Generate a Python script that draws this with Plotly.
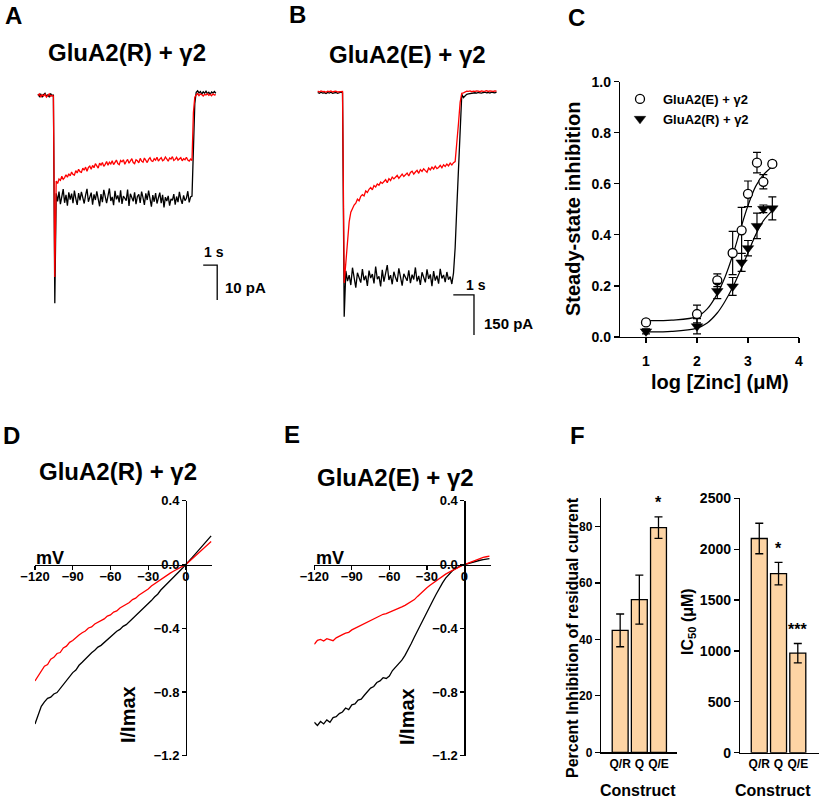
import numpy as np
import plotly.graph_objects as go

W, H = 820, 798
FONT = "Liberation Sans, Arial, Helvetica, sans-serif"
RED = "#ff0000"
BLACK = "#000000"
BAR = "#fdd4a4"

# ---------------- Panel A: GluA2(R)+g2 currents (pA), sampled every A_DT s ----------------
A_DT = 0.1
A_BLACK_PRE = [0.3, -0.4, 0.2, -0.6, 0.1, 0.5, -0.3, 0.0, -0.5, 0.4, -0.2, 0.1]
A_BLACK_PEAK = -59.5
A_BLACK_SS = [-28.1, -30.4, -27.6, -31.2, -29.0, -26.9, -30.8, -28.5, -31.6, -27.8,
              -29.9, -28.2, -30.9, -27.3, -29.6, -31.4, -28.0, -30.1, -27.7, -29.3,
              -31.0, -28.6, -26.8, -30.5, -29.2, -27.9, -31.3, -28.4, -30.0, -27.5,
              -29.7, -31.8, -28.3, -30.6, -27.1, -29.4, -30.9, -28.8, -26.7, -30.3,
              -29.1, -31.5, -27.4, -29.8, -28.7, -30.7, -27.2, -31.1, -28.9, -29.5,
              -30.2, -27.0, -31.7, -28.2, -29.6, -30.4, -27.8, -31.2, -29.0, -28.4,
              -30.8, -27.6, -29.3, -31.4, -28.1, -30.0, -27.3, -29.9, -31.9, -28.6,
              -30.5, -28.0, -31.0, -29.4, -27.9, -30.9, -28.5, -32.1, -29.2, -30.3,
              -28.8, -31.6, -29.7, -30.1, -28.3, -31.3, -29.0, -30.6, -27.7, -29.8,
              -31.1, -28.7, -30.2, -29.5, -27.5, -30.7, -29.1, -28.9]
A_BLACK_OFF = [-16.0, -2.5]
A_BLACK_POST = [0.8, 1.2, 0.6, 1.0, 0.3, 0.9, 0.5, 1.1, 0.4, 0.8, 0.2, 0.9, 0.6, 1.0, 0.5]

A_RED_PRE = [-0.2, 0.3, -0.5, 0.1, -0.3, 0.2, -0.6, 0.0, 0.3, -0.4, -0.1, -0.3]
A_RED_PEAK = -52.0
A_RED_SS = [-24.6, -25.3, -24.0, -24.4, -23.2, -24.1, -23.6, -22.8, -23.5, -22.5,
            -23.1, -22.0, -22.7, -22.9, -21.6, -22.3, -21.2, -21.9, -22.1, -20.9,
            -21.5, -20.6, -21.8, -20.7, -20.3, -21.2, -20.1, -20.8, -19.6, -20.5,
            -20.9, -19.5, -20.0, -19.3, -20.4, -19.8, -19.0, -20.1, -19.2, -19.7,
            -18.8, -19.9, -19.4, -18.6, -19.6, -19.9, -18.7, -19.1, -18.5, -19.8,
            -19.0, -18.4, -19.5, -18.9, -18.2, -19.3, -19.6, -18.5, -18.8, -19.4,
            -18.1, -18.9, -19.2, -18.0, -18.7, -19.3, -18.4, -17.9, -18.8, -19.0,
            -18.2, -18.6, -17.8, -18.9, -18.3, -17.9, -18.8, -18.5, -17.7, -18.4,
            -18.9, -18.0, -18.3, -17.6, -18.7, -18.4, -17.8, -18.6, -18.1, -17.9,
            -18.8, -18.2, -18.5, -17.8, -18.6, -18.9, -18.3, -18.7]
A_RED_OFF = [-5.0, -0.6]
A_RED_POST = [0.0, 0.4, -0.2, 0.3, 0.1, -0.3, 0.2, 0.0, 0.4, -0.1, 0.2, -0.2, 0.3, 0.0, 0.1]
A_SCALE_S, A_SCALE_PA = 1.0, 10.0

# ---------------- Panel B: GluA2(E)+g2 currents (pA), sampled every B_DT s ----------------
B_DT = 0.08
B_BLACK_PRE = [-3, -6, -2, -5, -4, -7, -3, -5, -2, -6, -4, -3, -6, -5, -2, -4]
B_BLACK_PEAK = -844
B_BLACK_SS = [-672, -710, -688, -725, -660, -701, -735, -679, -698, -716,
              -665, -707, -690, -728, -671, -699, -684, -719, -656, -703,
              -692, -730, -668, -712, -681, -650, -706, -688, -722, -675,
              -697, -713, -662, -700, -727, -683, -694, -709, -670, -718,
              -686, -704, -659, -711, -691, -724, -677, -699, -715, -666,
              -702, -685, -729, -673, -708, -690, -720, -664, -700, -687,
              -714, -676, -705, -693, -721, -680]
B_BLACK_OFF = [-585, -435, -285, -135, -10]
B_BLACK_POST = [-22, -14, -10, -8, -7, -5, -6, -4, -5, -3, -4, -5, -3, -2, -4, -3, -5, -2, -3, -4, -2]

B_RED_PRE = [2, -1, 3, 0, 1, -2, 2, 0, 3, -1, 1, 2, -1, 0, 2, 1]
B_RED_PEAK = -717
B_RED_SS = [-640, -562, -488, -452, -438, -425, -418, -403, -409, -392,
            -386, -391, -372, -378, -366, -359, -368, -352, -357, -346,
            -351, -339, -344, -336, -330, -341, -326, -333, -320, -327,
            -322, -314, -325, -317, -309, -318, -312, -305, -316, -303,
            -298, -309, -301, -295, -306, -292, -299, -289, -296, -302,
            -286, -293, -283, -290, -279, -288, -284, -276, -285, -274,
            -280, -271, -278, -268, -275, -266]
B_RED_OFF = [-262, -200, -120, -40, -6]
B_RED_POST = [-4, 0, 2, 1, 3, 0, 2, 1, 3, 2, 0, 3, 1, 2, 4, 1, 3, 2, 1, 3, 2]
B_SCALE_S, B_SCALE_PA = 1.0, 150.0

# ---------------- Panel C: dose-response ----------------
C_LOG_ZN = [1.0, 2.0, 2.398, 2.699, 2.875, 3.0, 3.176, 3.301, 3.477]
C_E_MEAN = [0.057, 0.09, 0.222, 0.329, 0.418, 0.561, 0.683, 0.608, 0.678]
C_E_ERR = [0.01, 0.035, 0.025, 0.085, 0.09, 0.05, 0.04, 0.028, 0.01]
C_R_MEAN = [0.022, 0.042, 0.18, 0.198, 0.292, 0.348, 0.435, 0.502, 0.504]
C_R_ERR = [0.01, 0.03, 0.03, 0.035, 0.035, 0.03, 0.05, 0.015, 0.045]
C_FIT_X = [1.0, 1.5, 2.0, 2.2, 2.4, 2.55, 2.7, 2.85, 3.0, 3.15, 3.3, 3.5]
C_FIT_E = [0.064, 0.066, 0.08, 0.11, 0.17, 0.235, 0.32, 0.42, 0.515, 0.59, 0.635, 0.672]
C_FIT_R = [0.02, 0.022, 0.035, 0.055, 0.095, 0.14, 0.195, 0.26, 0.33, 0.40, 0.455, 0.50]
C_LABEL_E = "GluA2(E) + γ2"
C_LABEL_R = "GluA2(R) + γ2"

# ---------------- Panels D, E: I-V relations (I/Imax), ramp from IV_V0 in IV_DV steps ----------------
IV_V0, IV_DV = -120.0, 2.5
D_BLACK = [-1.00, -0.95, -0.89, -0.862, -0.84, -0.832, -0.812, -0.803, -0.778, -0.758,
           -0.732, -0.705, -0.678, -0.662, -0.632, -0.613, -0.592, -0.573, -0.553, -0.538,
           -0.518, -0.507, -0.488, -0.472, -0.452, -0.437, -0.418, -0.407, -0.388, -0.377,
           -0.358, -0.342, -0.323, -0.307, -0.284, -0.266, -0.244, -0.226, -0.204, -0.186,
           -0.16, -0.141, -0.117, -0.099, -0.08, -0.06, -0.04, -0.02, 0.0, 0.022,
           0.045, 0.067, 0.09, 0.112, 0.135, 0.158, 0.18]
D_RED = [-0.73, -0.70, -0.668, -0.638, -0.627, -0.594, -0.582, -0.558, -0.552, -0.523,
         -0.512, -0.488, -0.477, -0.458, -0.442, -0.428, -0.417, -0.398, -0.391, -0.373,
         -0.362, -0.348, -0.341, -0.323, -0.316, -0.298, -0.291, -0.273, -0.262, -0.248,
         -0.238, -0.22, -0.211, -0.193, -0.181, -0.165, -0.154, -0.135, -0.121, -0.105,
         -0.094, -0.079, -0.067, -0.054, -0.042, -0.03, -0.02, -0.01, 0.0, 0.018,
         0.035, 0.053, 0.07, 0.088, 0.105, 0.125, 0.145]
E_BLACK = [-0.99, -1.01, -0.985, -1.00, -0.975, -0.99, -0.96, -0.955, -0.935, -0.925,
           -0.90, -0.91, -0.88, -0.875, -0.85, -0.845, -0.82, -0.80, -0.775, -0.765,
           -0.74, -0.73, -0.71, -0.715, -0.70, -0.665, -0.645, -0.625, -0.60, -0.57,
           -0.535, -0.495, -0.455, -0.415, -0.375, -0.335, -0.295, -0.258, -0.222, -0.185,
           -0.148, -0.115, -0.085, -0.06, -0.042, -0.027, -0.015, -0.006, 0.0, 0.006,
           0.012, 0.017, 0.022, 0.027, 0.031, 0.034, 0.037]
E_RED = [-0.50, -0.475, -0.47, -0.48, -0.465, -0.47, -0.478, -0.46, -0.452, -0.44,
         -0.43, -0.425, -0.41, -0.40, -0.39, -0.38, -0.372, -0.365, -0.355, -0.345,
         -0.335, -0.322, -0.312, -0.308, -0.30, -0.295, -0.287, -0.275, -0.266, -0.256,
         -0.245, -0.235, -0.22, -0.20, -0.18, -0.163, -0.146, -0.13, -0.115, -0.10,
         -0.088, -0.074, -0.06, -0.049, -0.038, -0.027, -0.017, -0.008, 0.0, 0.008,
         0.016, 0.023, 0.03, 0.037, 0.045, 0.049, 0.053]
IV_TICKS_X = [-120, -90, -60, -30, 0]
IV_TICKS_Y = [-1.2, -0.8, -0.4, 0.0, 0.4]

# ---------------- Panel F: bar charts ----------------
F_CONSTRUCTS = ["Q/R", "Q", "Q/E"]
F_INHIB = [43.2, 54.1, 79.6]
F_INHIB_ERR = [5.8, 8.7, 3.8]
F_INHIB_SIG = ["", "", "*"]
F_IC50 = [2105, 1760, 978]
F_IC50_ERR = [150, 110, 95]
F_IC50_SIG = ["", "*", "***"]


# ======================= build =======================
def trace_series(pre, peak, ss, off, post):
    return list(pre) + [peak] + list(ss) + list(off) + list(post)


def px2x(px):
    return px / W


def px2y(py):
    return 1 - py / H


def dom_x(p0, p1):
    return [px2x(p0), px2x(p1)]


def dom_y(ptop, pbot):
    return [px2y(pbot), px2y(ptop)]


fig = go.Figure()

# Panel A
a_black = trace_series(A_BLACK_PRE, A_BLACK_PEAK, A_BLACK_SS, A_BLACK_OFF, A_BLACK_POST)
a_red = trace_series(A_RED_PRE, A_RED_PEAK, A_RED_SS, A_RED_OFF, A_RED_POST)
fig.add_trace(go.Scatter(x=np.arange(len(a_black)) * A_DT, y=a_black, mode="lines",
                         line=dict(color=BLACK, width=1.3), xaxis="x", yaxis="y", showlegend=False))
fig.add_trace(go.Scatter(x=np.arange(len(a_red)) * A_DT, y=a_red, mode="lines",
                         line=dict(color=RED, width=1.3), xaxis="x", yaxis="y", showlegend=False))
a_t0, a_i0 = 11.8, -48.6  # scale-bar anchor
fig.add_trace(go.Scatter(x=[a_t0, a_t0 + A_SCALE_S, a_t0 + A_SCALE_S],
                         y=[a_i0, a_i0, a_i0 - A_SCALE_PA], mode="lines",
                         line=dict(color=BLACK, width=1.3), xaxis="x", yaxis="y", showlegend=False))

# Panel B
b_black = trace_series(B_BLACK_PRE, B_BLACK_PEAK, B_BLACK_SS, B_BLACK_OFF, B_BLACK_POST)
b_red = trace_series(B_RED_PRE, B_RED_PEAK, B_RED_SS, B_RED_OFF, B_RED_POST)
fig.add_trace(go.Scatter(x=np.arange(len(b_black)) * B_DT, y=b_black, mode="lines",
                         line=dict(color=BLACK, width=1.3), xaxis="x2", yaxis="y2", showlegend=False))
fig.add_trace(go.Scatter(x=np.arange(len(b_red)) * B_DT, y=b_red, mode="lines",
                         line=dict(color=RED, width=1.3), xaxis="x2", yaxis="y2", showlegend=False))
b_t0, b_i0 = 6.55, -762
fig.add_trace(go.Scatter(x=[b_t0, b_t0 + B_SCALE_S, b_t0 + B_SCALE_S],
                         y=[b_i0, b_i0, b_i0 - B_SCALE_PA], mode="lines",
                         line=dict(color=BLACK, width=1.3), xaxis="x2", yaxis="y2", showlegend=False))

# Panel C
fig.add_trace(go.Scatter(x=C_FIT_X, y=C_FIT_E, mode="lines", line=dict(color=BLACK, width=1.2, shape="spline"),
                         xaxis="x3", yaxis="y3", showlegend=False))
fig.add_trace(go.Scatter(x=C_FIT_X, y=C_FIT_R, mode="lines", line=dict(color=BLACK, width=1.2, shape="spline"),
                         xaxis="x3", yaxis="y3", showlegend=False))
fig.add_trace(go.Scatter(x=C_LOG_ZN, y=C_E_MEAN, mode="markers", name=C_LABEL_E,
                         marker=dict(symbol="circle", size=9, color="white", line=dict(color=BLACK, width=1.3)),
                         error_y=dict(type="data", array=C_E_ERR, color=BLACK, thickness=1.2, width=4),
                         xaxis="x3", yaxis="y3", cliponaxis=False))
fig.add_trace(go.Scatter(x=C_LOG_ZN, y=C_R_MEAN, mode="markers", name=C_LABEL_R,
                         marker=dict(symbol="triangle-down", size=10, color=BLACK, line=dict(color=BLACK, width=0.5)),
                         error_y=dict(type="data", array=C_R_ERR, color=BLACK, thickness=1.2, width=4),
                         xaxis="x3", yaxis="y3", cliponaxis=False))

# Panels D, E
for ys, col, ax in [(D_BLACK, BLACK, "4"), (D_RED, RED, "4"), (E_BLACK, BLACK, "5"), (E_RED, RED, "5")]:
    fig.add_trace(go.Scatter(x=IV_V0 + IV_DV * np.arange(len(ys)), y=ys, mode="lines",
                             line=dict(color=col, width=1.3), xaxis="x" + ax, yaxis="y" + ax, showlegend=False))

# Panel F
fx = list(range(len(F_CONSTRUCTS)))
fig.add_trace(go.Bar(x=fx, y=F_INHIB, width=0.83, marker=dict(color=BAR, line=dict(color=BLACK, width=1.3)),
                     error_y=dict(type="data", array=F_INHIB_ERR, color=BLACK, thickness=1.3, width=4),
                     xaxis="x6", yaxis="y6", showlegend=False))
fig.add_trace(go.Bar(x=fx, y=F_IC50, width=0.83, marker=dict(color=BAR, line=dict(color=BLACK, width=1.3)),
                     error_y=dict(type="data", array=F_IC50_ERR, color=BLACK, thickness=1.3, width=4),
                     xaxis="x7", yaxis="y7", showlegend=False))

hidden = dict(visible=False, showgrid=False, zeroline=False, automargin=False)
tfont = lambda s: dict(family=FONT, size=s, color=BLACK, weight="bold")
axis_common = dict(showgrid=False, zeroline=False, showline=True, linecolor=BLACK, linewidth=1.2,
                   ticks="outside", ticklen=5, tickwidth=1.2, tickcolor=BLACK, automargin=False)

# IV axis geometry
D_XPX = (35, 212.4)
E_XPX = (314.3, 490.7)
IV_RANGE_X = [-120, 21]
IV_YPX = (500.8, 755.8)
IV_RANGE_Y = [-1.2, 0.4]


def zero_pos_x(xpx):
    return px2x(xpx[0] + (0 - IV_RANGE_X[0]) / (IV_RANGE_X[1] - IV_RANGE_X[0]) * (xpx[1] - xpx[0]))


zero_py = IV_YPX[1] - (0 - IV_RANGE_Y[0]) / (IV_RANGE_Y[1] - IV_RANGE_Y[0]) * (IV_YPX[1] - IV_YPX[0])
iv_x_axis = {**axis_common, "ticklen": 4}

fig.update_layout(
    width=W, height=H, margin=dict(l=0, r=0, t=0, b=0, pad=0, autoexpand=False),
    paper_bgcolor="white", plot_bgcolor="white",
    font=dict(family=FONT, color=BLACK),
    xaxis=dict(domain=dom_x(30, 240), range=[(30 - 38) / 14, (240 - 38) / 14], anchor="y", **hidden),
    yaxis=dict(domain=dom_y(80, 310), range=[-(310 - 95) / 3.5, (95 - 80) / 3.5], anchor="x", **hidden),
    xaxis2=dict(domain=dom_x(310, 540), range=[(310 - 317.7) / 20.7, (540 - 317.7) / 20.7], anchor="y2", **hidden),
    yaxis2=dict(domain=dom_y(80, 345), range=[-(345 - 91.7) / 0.2667, (91.7 - 80) / 0.2667], anchor="x2", **hidden),
    xaxis3=dict(domain=dom_x(620, 799), range=[0.49, 4.0], anchor="y3", tickvals=[1, 2, 3, 4],
                tickfont=tfont(14), ticklabelstandoff=6, **axis_common),
    yaxis3=dict(domain=dom_y(81.7, 337), range=[0, 1], anchor="x3", tickvals=[0, 0.2, 0.4, 0.6, 0.8, 1.0],
                tickformat=".1f", tickfont=tfont(14), **axis_common),
    xaxis4=dict(domain=dom_x(*D_XPX), range=IV_RANGE_X, anchor="free", position=px2y(zero_py),
                tickvals=IV_TICKS_X, tickfont=tfont(13), ticklabelstandoff=-4, **iv_x_axis),
    yaxis4=dict(domain=dom_y(*IV_YPX), range=IV_RANGE_Y, anchor="free", position=zero_pos_x(D_XPX),
                tickvals=IV_TICKS_Y, tickformat=".1f", tickfont=tfont(13), **iv_x_axis),
    xaxis5=dict(domain=dom_x(*E_XPX), range=IV_RANGE_X, anchor="free", position=px2y(zero_py),
                tickvals=IV_TICKS_X, tickfont=tfont(13), ticklabelstandoff=-4, **iv_x_axis),
    yaxis5=dict(domain=dom_y(*IV_YPX), range=IV_RANGE_Y, anchor="free", position=zero_pos_x(E_XPX),
                tickvals=IV_TICKS_Y, tickformat=".1f", tickfont=tfont(13), **iv_x_axis),
    xaxis6=dict(domain=dom_x(601, 676.7), range=[-1, 2.95], anchor="y6", tickvals=fx, ticktext=F_CONSTRUCTS,
                tickfont=tfont(12), **{**axis_common, "ticks": ""}),
    yaxis6=dict(domain=dom_y(498.3, 752.3), range=[0, 90], anchor="x6", tickvals=[0, 20, 40, 60, 80],
                tickfont=tfont(12), **axis_common),
    xaxis7=dict(domain=dom_x(740, 819), range=[-1, 3.1], anchor="y7", tickvals=fx, ticktext=F_CONSTRUCTS,
                tickfont=tfont(12), **{**axis_common, "ticks": ""}),
    yaxis7=dict(domain=dom_y(498.3, 752.7), range=[0, 2500], anchor="x7", tickvals=[0, 500, 1000, 1500, 2000, 2500],
                tickfont=tfont(14), **axis_common),
    legend=dict(x=px2x(617), y=px2y(84), xanchor="left", yanchor="top", bgcolor="rgba(0,0,0,0)",
                itemwidth=36, font=dict(family=FONT, size=13, color=BLACK, weight="bold"), tracegroupgap=0),
    bargap=0,
)


def ann(text, px, py, size, rot=0, bold=True):
    return dict(text=text, x=px2x(px), y=px2y(py), xref="paper", yref="paper", showarrow=False,
                xanchor="center", yanchor="middle", textangle=rot,
                font=dict(family=FONT, size=size, color=BLACK, weight="bold" if bold else "normal"))


anns = [
    ann("A", 13, 15, 24), ann("B", 297, 14, 24), ann("C", 576, 18, 24),
    ann("D", 11, 435, 24), ann("E", 292, 434, 24), ann("F", 577, 435, 24),
    ann("GluA2(R) + γ2", 127, 52, 24), ann("GluA2(E) + γ2", 407, 54, 24),
    ann("GluA2(R) + γ2", 118, 471, 24), ann("GluA2(E) + γ2", 395, 477, 24),
    ann("%g s" % A_SCALE_S, 214, 252, 14), ann("%g pA" % A_SCALE_PA, 245, 287, 15),
    ann("%g s" % B_SCALE_S, 476, 285, 14), ann("%g pA" % B_SCALE_PA, 508, 323, 15),
    ann("Steady-state inhibition", 573, 209, 20, rot=-90),
    ann("log [Zinc] (μM)", 720, 382, 20),
    ann("mV", 50, 558, 18), ann("I/Imax", 128, 715, 20, rot=-90),
    ann("mV", 330, 558, 18), ann("I/Imax", 407, 717, 20, rot=-90),
    ann("Percent Inhibition of residual current", 572, 638, 16, rot=-90),
    ann("IC<sub>50</sub> (μM)", 688, 622, 16, rot=-90),
    ann("Construct", 637.5, 790, 16), ann("Construct", 773, 790, 16),
]
for i, s in enumerate(F_INHIB_SIG):
    if s:
        anns.append(dict(text=s, x=fx[i], y=F_INHIB[i] + F_INHIB_ERR[i], xref="x6", yref="y6", showarrow=False,
                         yshift=14, xanchor="center", yanchor="middle", font=tfont(16)))
for i, s in enumerate(F_IC50_SIG):
    if s:
        anns.append(dict(text=s, x=fx[i], y=F_IC50[i] + F_IC50_ERR[i], xref="x7", yref="y7", showarrow=False,
                         yshift=14, xanchor="center", yanchor="middle", font=tfont(16)))
fig.update_layout(annotations=anns)

# remove the browser's default page margin so the figure sits at the window origin
fig.write_html("out.html", config={"displayModeBar": False, "staticPlot": True},
               post_script="document.body.style.margin='0';document.body.style.overflow='hidden';")
